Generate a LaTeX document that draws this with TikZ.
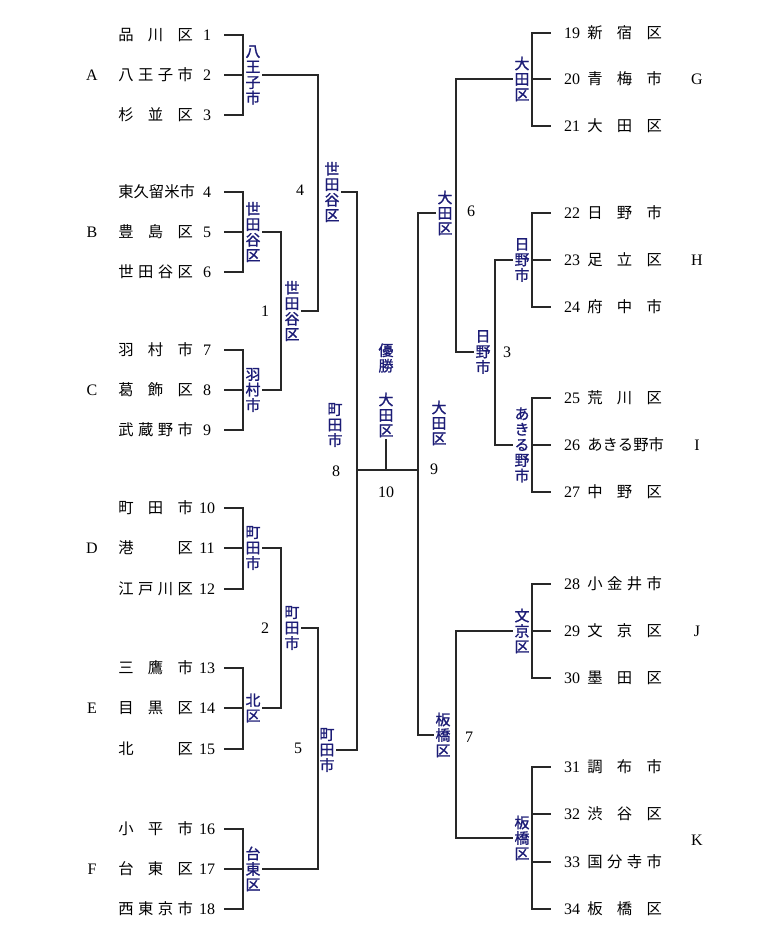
\documentclass[tikz,border=0pt]{standalone}
\usepackage{fontspec}
\setmainfont{Liberation Serif}
\newfontfamily\jpfont{Noto Sans CJK JP}
\newfontfamily\jpheavy[FakeBold=1.2]{Noto Sans CJK JP}
\definecolor{navy}{RGB}{28,28,118}
\definecolor{ink}{RGB}{40,40,40}
\tikzstyle{team} = [anchor=west, inner sep=0pt, font=\jpfont\fontsize{11.5}{13}\selectfont]
\tikzstyle{seed} = [inner sep=0pt, minimum width=25.5pt, font=\fontsize{12}{14}\selectfont]
\tikzstyle{winner} = [inner sep=1pt, align=center, text=navy, font=\jpheavy\fontsize{11.2}{11.6}\selectfont]
\tikzstyle{match} = [inner sep=0pt, font=\fontsize{12}{14}\selectfont]
\tikzstyle{line} = [draw=ink, line width=0.8pt]
\newcommand{\teamname}[1]{\makebox[56pt][s]{#1}}

\begin{document}
\begin{tikzpicture}[x=0.75pt, y=-0.75pt]
	\useasboundingbox (0,0) rectangle (760,950);
	% columns
	\coordinate (bL) at (243,0);
	\coordinate (lL) at (253,0);
	\coordinate (v1) at (281,0);
	\coordinate (v2) at (318,0);
	\coordinate (vF) at (357,0);
	\coordinate (vG) at (418,0);
	\coordinate (vR2) at (456,0);
	\coordinate (vR1) at (495,0);
	\coordinate (lR) at (522,0);
	\coordinate (bR) at (532,0);
	\coordinate (fin) at (386,470);

	% left entries
	\foreach \i/\y/\name in {1/35/{品\hfill 川\hfill 区}, 2/75/{八\hfill 王\hfill 子\hfill 市}, 3/115/{杉\hfill 並\hfill 区},
		4/192/{東\hfill 久\hfill 留\hfill 米\hfill 市}, 5/232/{豊\hfill 島\hfill 区}, 6/272/{世\hfill 田\hfill 谷\hfill 区},
		7/350/{羽\hfill 村\hfill 市}, 8/390/{葛\hfill 飾\hfill 区}, 9/430/{武\hfill 蔵\hfill 野\hfill 市},
		10/508/{町\hfill 田\hfill 市}, 11/548/{港\hfill 区}, 12/589/{江\hfill 戸\hfill 川\hfill 区},
		13/668/{三\hfill 鷹\hfill 市}, 14/708/{目\hfill 黒\hfill 区}, 15/749/{北\hfill 区},
		16/829/{小\hfill 平\hfill 市}, 17/869/{台\hfill 東\hfill 区}, 18/909/{西\hfill 東\hfill 京\hfill 市}}{
		\node[team] (n\i) at (118,\y) {\teamname{\name}};
		\node[seed] (t\i) at (207,\y) {\i};
	}
	% right entries
	\foreach \i/\y/\name in {19/33/{新\hfill 宿\hfill 区}, 20/79/{青\hfill 梅\hfill 市}, 21/126/{大\hfill 田\hfill 区},
		22/213/{日\hfill 野\hfill 市}, 23/260/{足\hfill 立\hfill 区}, 24/307/{府\hfill 中\hfill 市},
		25/398/{荒\hfill 川\hfill 区}, 26/445/{あ\hfill き\hfill る\hfill 野\hfill 市}, 27/492/{中\hfill 野\hfill 区},
		28/584/{小\hfill 金\hfill 井\hfill 市}, 29/631/{文\hfill 京\hfill 区}, 30/678/{墨\hfill 田\hfill 区},
		31/767/{調\hfill 布\hfill 市}, 32/814/{渋\hfill 谷\hfill 区}, 33/862/{国\hfill 分\hfill 寺\hfill 市}, 34/909/{板\hfill 橋\hfill 区}}{
		\node[seed, minimum width=31.5pt] (t\i) at (572,\y) {\i};
		\node[team] (n\i) at (587,\y) {\teamname{\name}};
	}

	% block letters
	\foreach \b/\y in {A/75, B/232, C/390, D/548, E/708, F/869}
		\node[match] (blk\b) at (92,\y) {\b};
	\foreach \b/\y in {G/79, H/260, I/445, J/631, K/840}
		\node[match] (blk\b) at (697,\y) {\b};

	% first round brackets
	\foreach \a/\b/\c in {1/2/3, 4/5/6, 7/8/9, 10/11/12, 13/14/15, 16/17/18}{
		\draw[line] (t\a.east) -- (t\a.east -| bL) -- (t\c.east -| bL) -- (t\c.east);
		\draw[line] (t\b.east) -- (t\b.east -| bL);
	}
	\foreach \a/\b/\c in {19/20/21, 22/23/24, 25/26/27, 28/29/30}{
		\draw[line] (t\a.west) -- (t\a.west -| bR) -- (t\c.west -| bR) -- (t\c.west);
		\draw[line] (t\b.west) -- (t\b.west -| bR);
	}
	\draw[line] (t31.west) -- (t31.west -| bR) -- (t34.west -| bR) -- (t34.west);
	\draw[line] (t32.west) -- (t32.west -| bR);
	\draw[line] (t33.west) -- (t33.west -| bR);

	% block winners
	\node[winner] (wA) at (t2 -| lL) {八\\王\\子\\市};
	\node[winner] (wB) at (t5 -| lL) {世\\田\\谷\\区};
	\node[winner] (wC) at (t8 -| lL) {羽\\村\\市};
	\node[winner] (wD) at (t11 -| lL) {町\\田\\市};
	\node[winner] (wE) at (t14 -| lL) {北\\区};
	\node[winner] (wF) at (t17 -| lL) {台\\東\\区};
	\node[winner] (wG) at (t20 -| lR) {大\\田\\区};
	\node[winner] (wH) at (t23 -| lR) {日\\野\\市};
	\node[winner] (wI) at (t26 -| lR) {あ\\き\\る\\野\\市};
	\node[winner] (wJ) at (t29 -| lR) {文\\京\\区};
	\node[winner] (wK) at (522,838) {板\\橋\\区};

	% matches
	\node[winner] (w1) at (292,311) {世\\田\\谷\\区};
	\node[winner] (w2) at (292,628) {町\\田\\市};
	\node[winner] (w3) at (483,352) {日\\野\\市};
	\node[winner] (w4) at (332,192) {世\\田\\谷\\区};
	\node[winner] (w5) at (327,750) {町\\田\\市};
	\node[winner] (w6) at (445,213) {大\\田\\区};
	\node[winner] (w7) at (443,735) {板\\橋\\区};
	\node[winner] (w8) at (335,425) {町\\田\\市};
	\node[winner] (w9) at (439,423) {大\\田\\区};
	\node[winner] (title) at (386,358) {優\\勝};
	\node[winner] (champ) at (386,415) {大\\田\\区};

	\node[match] (g1) at (265,311) {1};
	\node[match] (g2) at (265,628) {2};
	\node[match] (g3) at (507,352) {3};
	\node[match] (g4) at (300,190) {4};
	\node[match] (g5) at (298,748) {5};
	\node[match] (g6) at (471,211) {6};
	\node[match] (g7) at (469,737) {7};
	\node[match] (g8) at (336,471) {8};
	\node[match] (g9) at (434,469) {9};
	\node[match] (g10) at (386,492) {10};

	\draw[line] (wB.east) -- (wB.east -| v1) -- (wC.east -| v1) -- (wC.east);
	\draw[line] (wD.east) -- (wD.east -| v1) -- (wE.east -| v1) -- (wE.east);
	\draw[line] (wA.east) -- (wA.east -| v2) -- (w1.east -| v2) -- (w1.east);
	\draw[line] (w2.east) -- (w2.east -| v2) -- (wF.east -| v2) -- (wF.east);
	\draw[line] (w4.east) -- (w4.east -| vF) -- (w5.east -| vF) -- (w5.east);
	\draw[line] (wH.west) -- (wH.west -| vR1) -- (wI.west -| vR1) -- (wI.west);
	\draw[line] (wG.west) -- (wG.west -| vR2) -- (w3.west -| vR2) -- (w3.west);
	\draw[line] (wJ.west) -- (wJ.west -| vR2) -- (wK.west -| vR2) -- (wK.west);
	\draw[line] (w6.west) -- (w6.west -| vG) -- (w7.west -| vG) -- (w7.west);
	\draw[line] (fin -| vF) -- (fin -| vG);
	\draw[line] (champ.south) -- (champ.south |- fin);
\end{tikzpicture}
\end{document}
